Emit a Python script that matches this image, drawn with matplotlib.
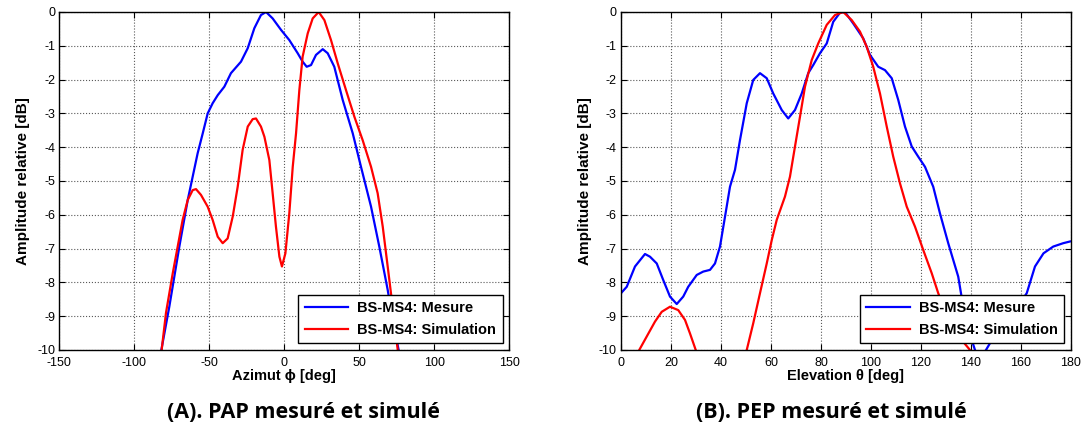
import numpy as np
import matplotlib
matplotlib.use("Agg")
import matplotlib.pyplot as plt

plt.rcParams["font.family"] = ["Liberation Sans", "DejaVu Sans"]
plt.rcParams["axes.unicode_minus"] = False

# (A) azimuth cut
az_mes_x = [-82, -76.7, -70, -64.4, -61.1, -57.8, -54.4, -51.1, -47.8, -44.4, -40, -35.6,
            -28.9, -24.4, -20, -15.6, -12.2, -7.8, -2.2, 3.3, 8.9, 12.2, 14.9, 17.8, 21.1,
            25.6, 28.9, 33.3, 38.9, 45.6, 51.1, 57.8, 63.3, 68.9, 72.2, 76.2]
az_mes_y = [-10, -8.72, -6.94, -5.56, -4.87, -4.18, -3.59, -3.0, -2.70, -2.46, -2.21, -1.81,
            -1.47, -1.07, -0.48, -0.09, 0, -0.19, -0.53, -0.83, -1.22, -1.47, -1.62, -1.57, -1.27,
            -1.10, -1.22, -1.62, -2.60, -3.59, -4.58, -5.76, -6.94, -8.22, -9.11, -10]

az_sim_x = [-81.8, -78.9, -74.4, -71.1, -67.8, -64.4, -61.1, -58.9, -55.6, -51.1, -47.8, -44.4,
            -41.1, -37.8, -34.4, -31.1, -27.8, -24.4, -21.1, -18.9, -15.6, -13.3, -10, -7.8,
            -5.6, -3.3, -1.6, 0.7, 3.3, 5.6, 7.8, 10, 12.2, 15.6, 18.9, 22.9, 26.7, 31.1, 35.6,
            41.1, 46.7, 52.2, 57.8, 62.2, 65.6, 68.9, 72.2, 75.6]
az_sim_y = [-10, -8.9, -7.73, -6.94, -6.15, -5.56, -5.27, -5.24, -5.41, -5.76, -6.15, -6.65,
            -6.84, -6.70, -6.05, -5.17, -4.08, -3.39, -3.17, -3.15, -3.39, -3.69, -4.38, -5.36,
            -6.35, -7.24, -7.53, -7.14, -5.96, -4.58, -3.59, -2.31, -1.32, -0.63, -0.19, 0, -0.24,
            -0.83, -1.52, -2.31, -3.10, -3.79, -4.58, -5.36, -6.35, -7.53, -8.72, -10]

# (B) elevation cut
el_mes_x = [0, 2.3, 5.6, 9.6, 11.6, 14.3, 16.9, 19.6, 22.3, 24.9, 26.9, 30.3, 32.9, 35.6, 37.6,
            39.6, 41.6, 43.6, 45.6, 47.6, 50.3, 52.9, 55.6, 58.3, 60.9, 64.3, 66.9, 69.6, 72.3,
            74.9, 76.9, 79.6, 82.3, 84.9, 87.6, 89.6, 92.9, 96.9, 99.6, 102.9, 105.6, 108.3,
            110.9, 113.6, 116.3, 118.9, 121.6, 124.9, 127.6, 130.9, 134.9, 136.9, 139, 141.6,
            143.8, 146, 150, 156, 162.3, 165.6, 169, 172.9, 176.9, 179.6]
el_mes_y = [-8.32, -8.13, -7.53, -7.16, -7.24, -7.44, -7.93, -8.42, -8.64, -8.42, -8.13, -7.78,
            -7.68, -7.63, -7.44, -6.94, -6.06, -5.17, -4.67, -3.79, -2.70, -2.01, -1.81, -1.96,
            -2.41, -2.90, -3.15, -2.90, -2.41, -1.81, -1.57, -1.22, -0.93, -0.29, -0.02, 0,
            -0.34, -0.78, -1.27, -1.62, -1.72, -1.96, -2.60, -3.39, -3.98, -4.28, -4.58, -5.17,
            -5.96, -6.84, -7.83, -8.72, -9.4, -10, -10.3, -10, -9.5, -9.0, -8.32, -7.53, -7.14,
            -6.94, -6.84, -6.79]

el_sim_x = [7.3, 10.3, 13.6, 16.3, 19.6, 22.9, 25.6, 27.6, 29.9, np.nan, 50.3, 52.9, 55.6, 58.3,
            60.3, 62.3, 65.6, 67.6, 69.6, 71.6, 73.6, 76.3, 78.9, 82.3, 85.6, 88.9, 92.3, 95.6,
            98.3, 100.9, 103.6, 106.3, 108.9, 111.6, 114.3, 117.6, 120.9, 124.3, 126.9, 130,
            134, 139.6]
el_sim_y = [-10, -9.6, -9.16, -8.87, -8.72, -8.82, -9.11, -9.51, -10, np.nan, -10, -9.21, -8.32,
            -7.44, -6.75, -6.15, -5.46, -4.87, -3.98, -3.10, -2.21, -1.42, -0.93, -0.38, -0.09, 0,
            -0.24, -0.58, -1.03, -1.62, -2.41, -3.39, -4.28, -5.07, -5.76, -6.35, -7.04, -7.73,
            -8.32, -8.9, -9.5, -10]

y_ticks = list(range(0, -11, -1))
az_ticks = [-150, -100, -50, 0, 50, 100, 150]
el_ticks = list(range(0, 181, 20))

fig = plt.figure(figsize=(10.83, 4.33), dpi=100)
ax1 = fig.add_axes([0.0548, 0.1917, 0.4155, 0.7806])
ax2 = fig.add_axes([0.5734, 0.1917, 0.4155, 0.7806])


def style_axis(ax, xticks, xlim, xlabel):
    ax.set_xlim(*xlim)
    ax.set_ylim(-10, 0)
    ax.set_xticks(xticks)
    ax.set_yticks(y_ticks)
    ax.grid(True, linestyle=":", color="0.35", linewidth=0.8)
    ax.tick_params(direction="in", top=True, right=True, length=4, width=0.8,
                   labelsize=9)
    ax.tick_params(axis="x", pad=5)
    ax.tick_params(axis="y", pad=3)
    for s in ax.spines.values():
        s.set_linewidth(1.0)
    ax.set_xlabel(xlabel, fontsize=10.5, fontweight="bold", labelpad=0)
    ax.set_ylabel("Amplitude relative [dB]", fontsize=11, fontweight="bold", labelpad=5)
    leg = ax.legend(loc="lower right", bbox_to_anchor=(0.985, 0.02), fancybox=False,
                    edgecolor="black", framealpha=1, prop={"weight": "bold", "size": 10.5},
                    handlelength=3.0, borderpad=0.45, labelspacing=0.5, borderaxespad=0,
                    handletextpad=0.6)
    leg.get_frame().set_linewidth(1.0)


ax1.plot(az_mes_x, az_mes_y, color="blue", lw=1.6, label="BS-MS4: Mesure")
ax1.plot(az_sim_x, az_sim_y, color="red", lw=1.6, label="BS-MS4: Simulation")
style_axis(ax1, az_ticks, (-150, 150), "Azimut \u03d5 [deg]")

ax2.plot(el_mes_x, el_mes_y, color="blue", lw=1.6, label="BS-MS4: Mesure")
ax2.plot(el_sim_x, el_sim_y, color="red", lw=1.6, label="BS-MS4: Simulation")
style_axis(ax2, el_ticks, (0, 180), "Elevation \u03b8 [deg]")

fig.text(303 / 1083, 1 - 413 / 433, "(A). PAP mesuré et simulé", ha="center", va="center",
         fontsize=15.5, fontweight="bold", family=["Open Sans", "DejaVu Sans"])
fig.text(831 / 1083, 1 - 413 / 433, "(B). PEP mesuré et simulé", ha="center", va="center",
         fontsize=15.5, fontweight="bold", family=["Open Sans", "DejaVu Sans"])

fig.savefig("out.png", dpi=100, facecolor="white")
